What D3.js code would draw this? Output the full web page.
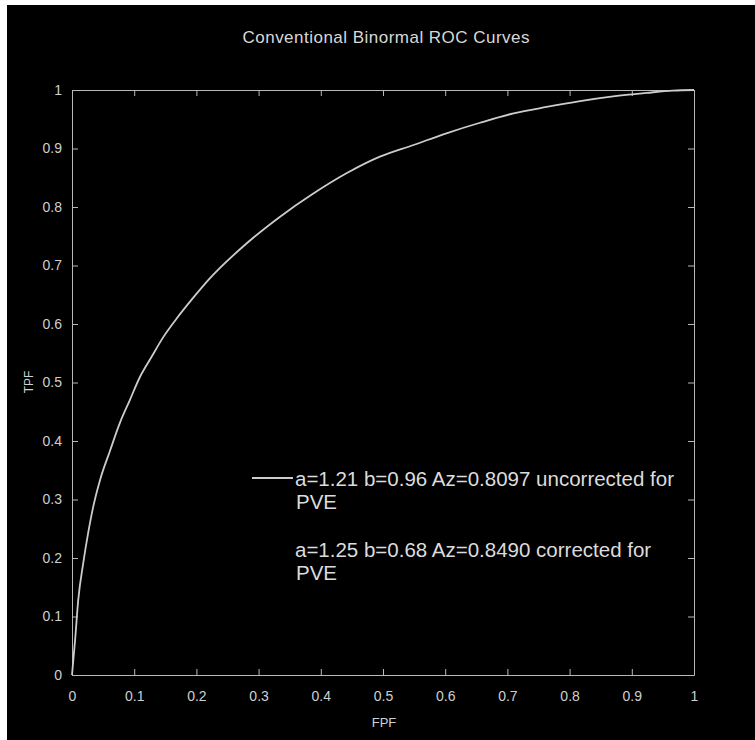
<!DOCTYPE html>
<html>
<head>
<meta charset="utf-8">
<script src="https://cdn.jsdelivr.net/npm/d3@7"></script>
<style>
  body { margin: 0; background: #fff; }
  text { font-family: "Liberation Sans", Arial, sans-serif; }
</style>
</head>
<body>
<script>
var w = 755;
var h = 740;

// curve (a=1.21 b=0.96, uncorrected)
var fpf = [0, 0.005, 0.010, 0.018, 0.026, 0.034, 0.045, 0.061, 0.077, 0.093, 0.109,
           0.128, 0.147, 0.168, 0.195, 0.219, 0.281, 0.334, 0.388, 0.442, 0.495,
           0.549, 0.602, 0.656, 0.710, 0.763, 0.817, 0.870, 0.924, 0.966, 1];
var tpf = [0, 0.060, 0.128, 0.191, 0.243, 0.287, 0.333, 0.383, 0.431, 0.470, 0.509,
           0.544, 0.578, 0.609, 0.645, 0.675, 0.738, 0.783, 0.823, 0.858, 0.886,
           0.906, 0.926, 0.944, 0.960, 0.971, 0.981, 0.989, 0.995, 0.999, 1];

var tickValues = [0, 0.1, 0.2, 0.3, 0.4, 0.5, 0.6, 0.7, 0.8, 0.9, 1];
var tickLabels = ["0", "0.1", "0.2", "0.3", "0.4", "0.5", "0.6", "0.7", "0.8", "0.9", "1"];

var legendLines = [
    ["a=1.21 b=0.96 Az=0.8097 uncorrected for", "PVE"],
    ["a=1.25 b=0.68 Az=0.8490 corrected for", "PVE"]
];

var plotLeft = 72, plotRight = 694, plotTop = 90, plotBottom = 675;

drawContent();

function drawContent(){
    var svg = d3.select("body")
        .append("svg")
        .attr("width", w)
        .attr("height", h);

    //---background-----
    svg.append("rect")
        .attr("x", 7)
        .attr("y", 5)
        .attr("width", w - 7)
        .attr("height", h - 5)
        .attr("fill", "#000");

    var x = d3.scaleLinear().domain([0, 1]).range([plotLeft, plotRight]);
    var y = d3.scaleLinear().domain([0, 1]).range([plotBottom, plotTop]);

    var fmt = function (d, i) { return tickLabels[i]; };

    //----axes-----
    var gx = svg.append("g")
        .attr("transform", "translate(0," + plotBottom + ")")
        .call(d3.axisBottom(x).tickValues(tickValues).tickFormat(fmt)
              .tickSizeInner(-6).tickSizeOuter(0).tickPadding(16));
    var gy = svg.append("g")
        .attr("transform", "translate(" + plotLeft + ",0)")
        .call(d3.axisLeft(y).tickValues(tickValues).tickFormat(fmt)
              .tickSizeInner(-6).tickSizeOuter(0).tickPadding(10));
    var gt = svg.append("g")
        .attr("transform", "translate(0," + plotTop + ")")
        .call(d3.axisTop(x).tickValues(tickValues).tickFormat("")
              .tickSizeInner(-6).tickSizeOuter(0));
    var gr = svg.append("g")
        .attr("transform", "translate(" + plotRight + ",0)")
        .call(d3.axisRight(y).tickValues(tickValues).tickFormat("")
              .tickSizeInner(-6).tickSizeOuter(0));

    [gx, gy, gt, gr].forEach(function (g) {
        g.selectAll(".domain").attr("stroke", "#b8b8b8");
        g.selectAll(".tick line").attr("stroke", "#b8b8b8");
        g.selectAll(".tick text")
            .attr("fill", "#cfcfcf")
            .attr("font-size", 14)
            .attr("font-family", "Liberation Sans, Arial, sans-serif");
    });

    //----curve-----
    var pts = fpf.map(function (d, i) { return [d, tpf[i]]; });
    svg.append("path")
        .datum(pts)
        .attr("fill", "none")
        .attr("stroke", "#cccccc")
        .attr("stroke-width", 1.8)
        .attr("d", d3.line()
            .x(function (d) { return x(d[0]); })
            .y(function (d) { return y(d[1]); })
            .curve(d3.curveMonotoneX));

    //----text-----
    svg.append("text")
        .text("Conventional Binormal ROC Curves")
        .attr("x", 386)
        .attr("y", 43)
        .attr("text-anchor", "middle")
        .attr("font-size", 17)
        .attr("textLength", 287)
        .attr("fill", "#d8d8d8");

    svg.append("text")
        .text("FPF")
        .attr("x", 384)
        .attr("y", 727)
        .attr("text-anchor", "middle")
        .attr("font-size", 13)
        .attr("fill", "#d0d0d0");

    svg.append("text")
        .text("TPF")
        .attr("transform", "translate(33,382) rotate(-90)")
        .attr("text-anchor", "middle")
        .attr("font-size", 12)
        .attr("fill", "#d0d0d0");

    //-----legend--------
    svg.append("line")
        .attr("x1", 252)
        .attr("x2", 293)
        .attr("y1", 478)
        .attr("y2", 478)
        .attr("stroke", "#cccccc")
        .attr("stroke-width", 1.8);

    legendLines.forEach(function (entry, i) {
        var base = 486 + i * 71;
        svg.append("text")
            .text(entry[0])
            .attr("x", 295)
            .attr("y", base)
            .attr("font-size", 20.5)
            .attr("fill", "#dcdcdc");
        svg.append("text")
            .text(entry[1])
            .attr("x", 296)
            .attr("y", base + 23)
            .attr("font-size", 20.5)
            .attr("fill", "#dcdcdc");
    });
}
</script>
</body>
</html>
